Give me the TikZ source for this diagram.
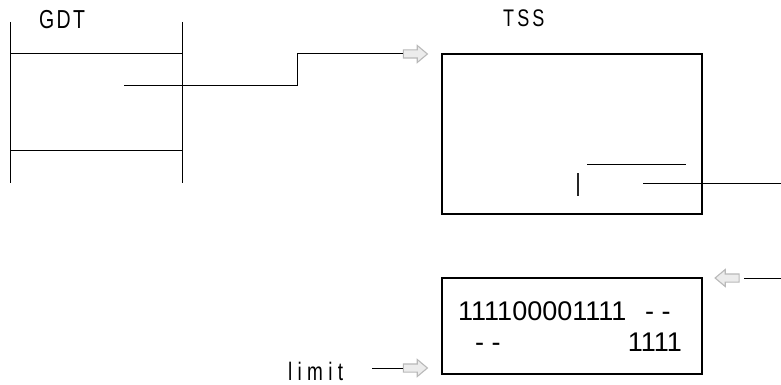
\documentclass[tikz,border=0pt]{standalone}
\usepackage{fontspec}
\setmainfont{Liberation Sans}
\newfontfamily\labA[FakeStretch=0.75,LetterSpace=9]{Liberation Sans}
\newfontfamily\labB[FakeStretch=0.75,LetterSpace=13]{Liberation Sans}
\newfontfamily\labC[FakeStretch=0.75,LetterSpace=21]{Liberation Sans}
\usetikzlibrary{shapes.arrows}
\begin{document}
\begin{tikzpicture}[x=1pt,y=-1pt,
  ln/.style={line width=1pt,black},
  bx/.style={draw,line width=1.1pt,inner sep=0pt},
  harrow/.style={single arrow,draw=gray!55,fill=gray!15,line width=1.1pt,
    minimum height=24pt,minimum width=17pt,inner sep=3.5pt,
    single arrow head extend=4.5pt,single arrow tip angle=80,anchor=center},
  lbl/.style={inner sep=0pt,anchor=base west},
  btxt/.style={inner sep=0pt,anchor=base west,font=\fontsize{27}{30}\selectfont}]
\useasboundingbox (0,0) rectangle (781,385);
% GDT table
\coordinate (g1) at (10,22); \coordinate (g2) at (10,183);
\coordinate (g3) at (182,22); \coordinate (g4) at (182,183);
\coordinate (h1) at (10,54); \coordinate (h1e) at (182,54);
\coordinate (h2) at (10,150); \coordinate (h2e) at (182,150);
\draw[ln] (g1) -- (g2);
\draw[ln] (g3) -- (g4);
\draw[ln] (h1) -- (h1e);
\draw[ln] (h2) -- (h2e);
\node[lbl,font=\fontsize{26}{30}\labA] (gdt) at (39,29) {GDT};
% TSS box
\node[lbl,font=\fontsize{24}{28}\labB] (tss) at (503,27) {TSS};
\node[bx,minimum width=260pt,minimum height=160pt] (tssbox) at (572,134) {};
\node[harrow] (a1) at (413,54) {};
\coordinate (s1) at (124,86);
\draw[ln] (s1) -- (297,86) -- (297,54) -- (a1.west);
\coordinate (i1) at (587,164); \coordinate (i1e) at (686,164);
\draw[ln] (i1) -- (i1e);
\coordinate (v1) at (578,173); \coordinate (v1e) at (578,196);
\draw[line width=1.8pt,black!85] (v1) -- (v1e);
\coordinate (r1) at (643,183); \coordinate (r1e) at (781,183);
\draw[ln] (r1) -- (r1e);
% bottom box
\node[bx,minimum width=260pt,minimum height=96pt] (lbox) at (572,326) {};
\node[harrow,shape border rotate=180] (a2) at (729.5,278) {};
\coordinate (r2) at (781,278);
\draw[ln] (r2) -- ([xshift=4pt]a2.east);
\node[btxt] (t1) at (458,320) {111100001111};
\node[btxt] (t2) at (645,320) {- -};
\node[btxt] (t3) at (475,351) {- -};
\node[btxt,anchor=base east] (t4) at (682,351) {1111};
% limit
\node[lbl,font=\fontsize{25.3}{29}\labC] (lim) at (288,380) {limit};
\node[harrow] (a3) at (413,368) {};
\coordinate (l1) at (372,368);
\draw[ln] (l1) -- (a3.west);
\end{tikzpicture}
\end{document}
